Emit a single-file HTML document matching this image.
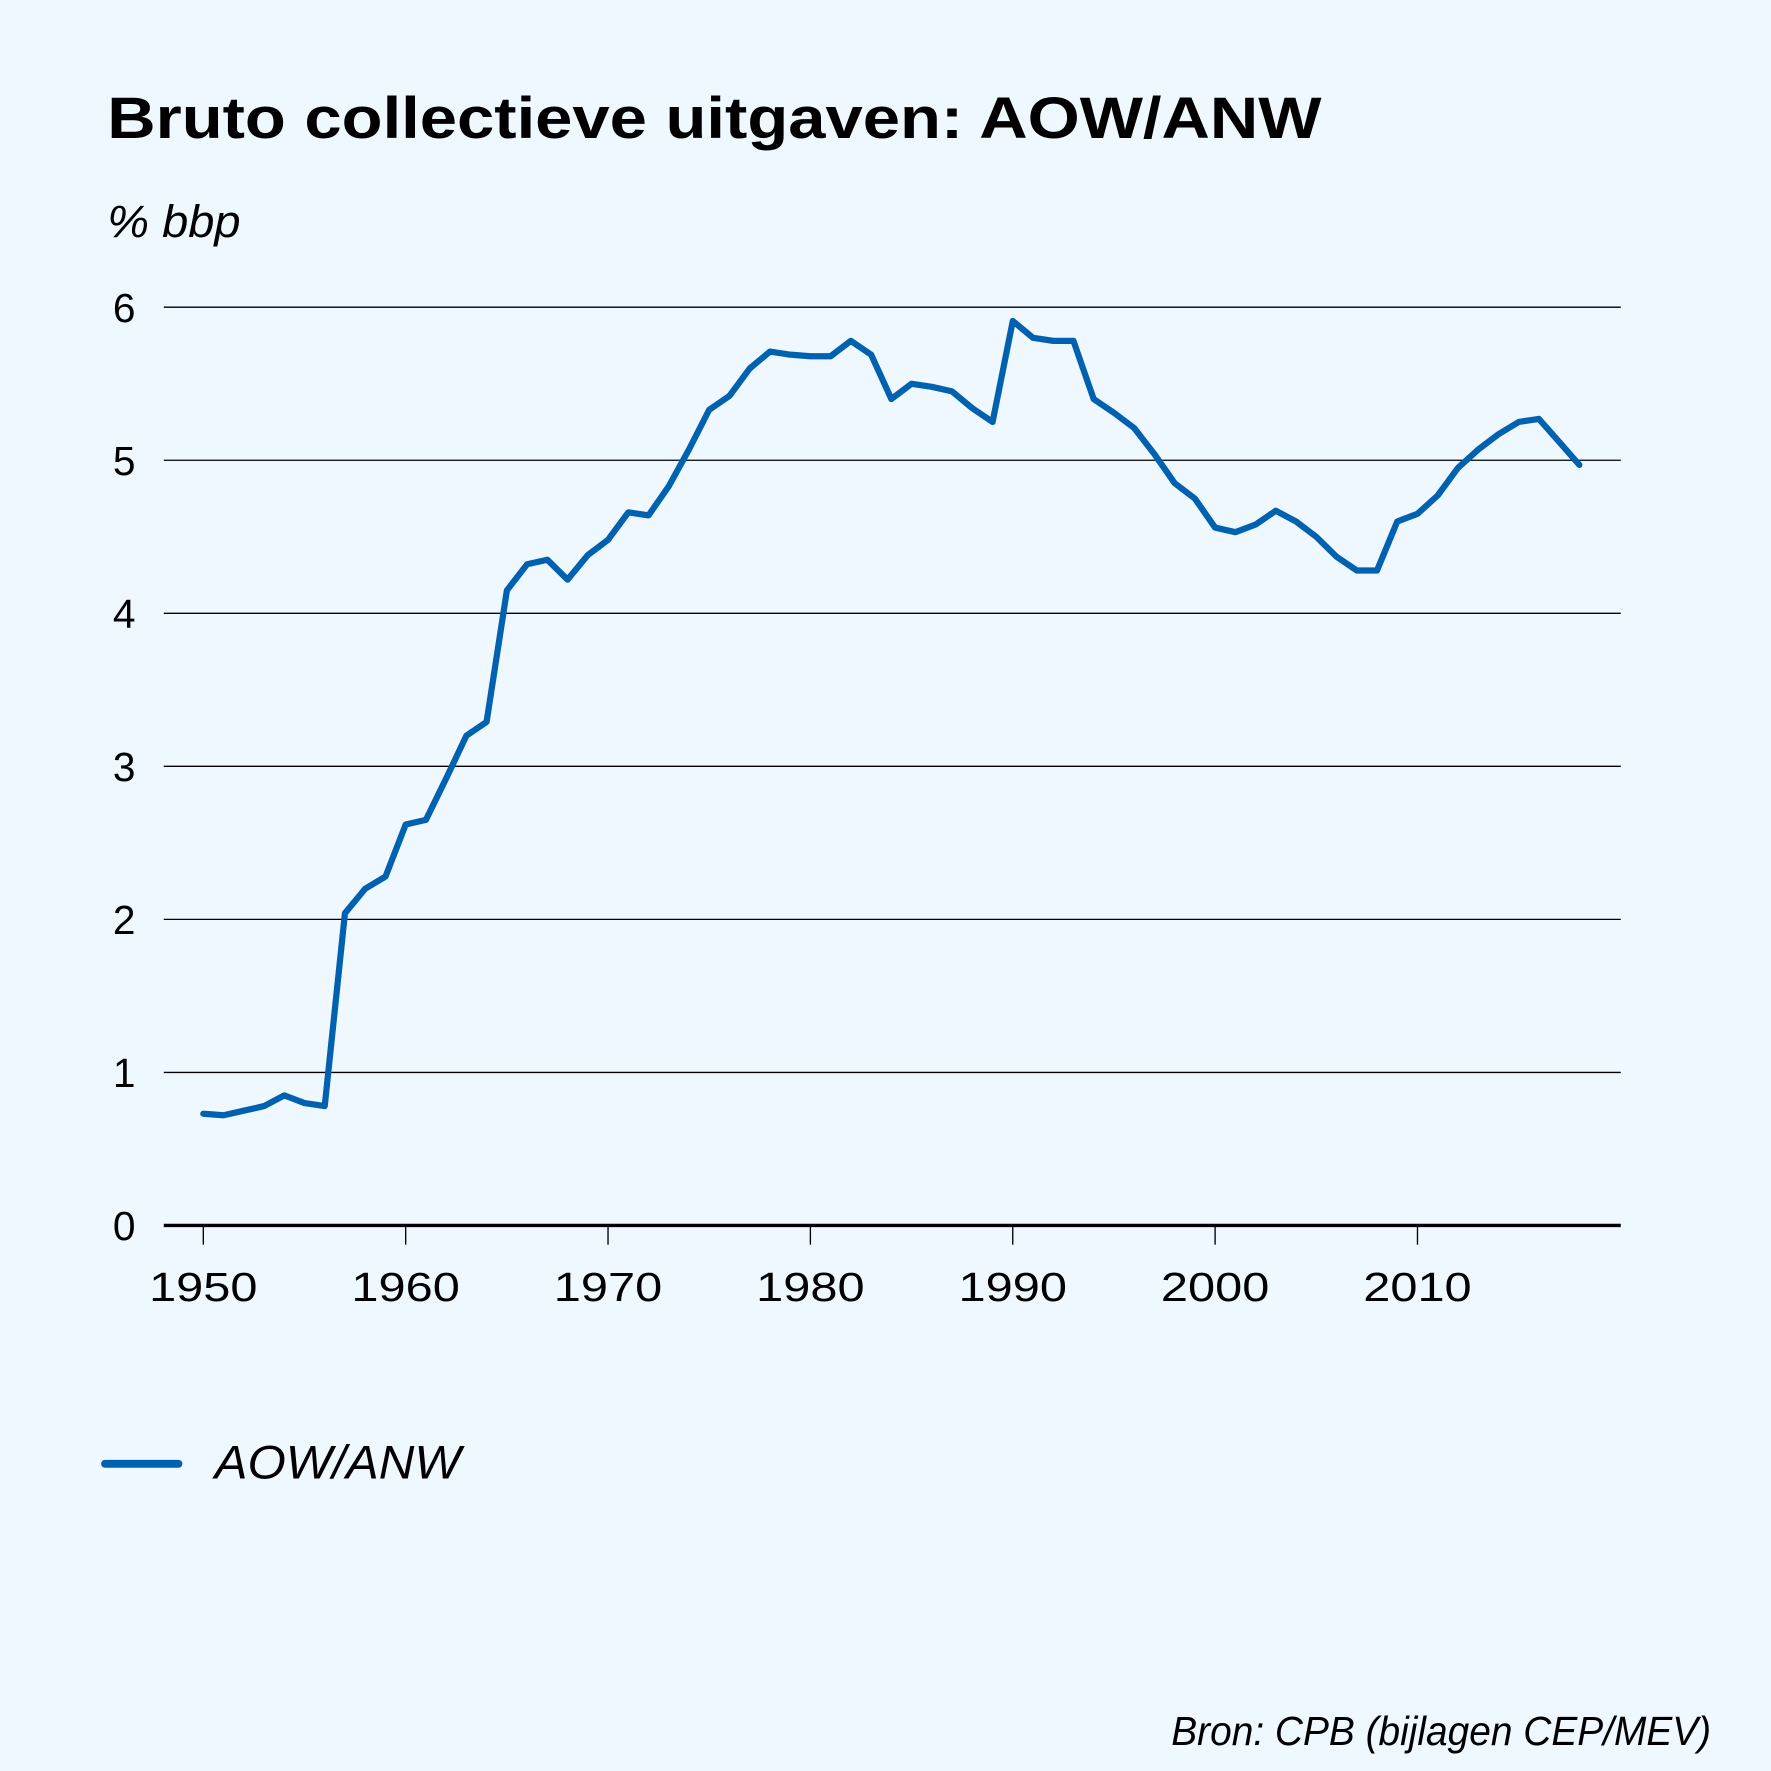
<!DOCTYPE html>
<html><head><meta charset="utf-8"><style>
html,body{margin:0;padding:0;background:#eef8fe;}
svg{display:block;font-family:"Liberation Sans",sans-serif;}
</style></head><body>
<svg id="chart" width="1771" height="1771" viewBox="0 0 1568 1568" xmlns="http://www.w3.org/2000/svg">
<rect width="1568" height="1568" fill="#eef8fe"/>
<text x="95" y="122" font-size="52" font-weight="bold" textLength="1075" lengthAdjust="spacingAndGlyphs" fill="#000">Bruto collectieve uitgaven: AOW/ANW</text>
<text x="95" y="210" font-size="40" font-style="italic" textLength="118" lengthAdjust="spacingAndGlyphs" fill="#000">% bbp</text>
<g id="grid"></g><g id="xaxis"></g><g id="plot"></g>
<line x1="93" y1="1296" x2="158" y2="1296" stroke="#0061b0" stroke-width="7" stroke-linecap="round"/>
<text x="190" y="1309" font-size="42" font-style="italic" textLength="218" lengthAdjust="spacingAndGlyphs" fill="#000">AOW/ANW</text>
<text x="1515" y="1545" font-size="36" font-style="italic" text-anchor="end" textLength="478" lengthAdjust="spacingAndGlyphs" fill="#000">Bron: CPB (bijlagen CEP/MEV)</text>
</svg>
<script>
const years = [];
for (let y = 1950; y <= 2018; y++) years.push(y);
const values = [0.73,0.72,0.75,0.78,0.85,0.80,0.78,2.04,2.20,2.28,2.62,2.65,2.92,3.20,3.29,4.15,4.32,4.35,4.22,4.38,4.48,4.66,4.64,4.83,5.07,5.33,5.42,5.60,5.71,5.69,5.68,5.68,5.78,5.69,5.40,5.50,5.48,5.45,5.34,5.25,5.91,5.80,5.78,5.78,5.40,5.31,5.21,5.04,4.85,4.75,4.56,4.53,4.58,4.67,4.60,4.50,4.37,4.28,4.28,4.60,4.65,4.77,4.95,5.07,5.17,5.25,5.27,5.12,4.97];
const yTicks = [0,1,2,3,4,5,6];
const xTicks = [1950,1960,1970,1980,1990,2000,2010];
const NS = "http://www.w3.org/2000/svg";
const xScale = v => 180 + (v - 1950) * (1255 - 180) / 60;
const yScale = v => 1085 - v * (1085 - 272) / 6;
function mk(tag, attrs, parent) {
  const e = document.createElementNS(NS, tag);
  for (const k in attrs) e.setAttribute(k, attrs[k]);
  parent.appendChild(e);
  return e;
}
const grid = document.getElementById('grid');
yTicks.forEach(t => {
  const l = mk('line', {x1:145, x2:1435, y1:yScale(t), y2:yScale(t), stroke:'#000', 'stroke-width': t === 0 ? 3 : 1.2}, grid);
  
  
  const tx = mk('text', {x:110, y:yScale(t) + 13, 'font-size':36, 'text-anchor':'middle', fill:'#000'}, grid);
  tx.textContent = t;
  
  
});
const xa = document.getElementById('xaxis');
xTicks.forEach(t => {
  const l = mk('line', {x1:xScale(t), x2:xScale(t), y1:1085, y2:1102, stroke:'#000', 'stroke-width':1.2}, xa);
  
  
  const tx = mk('text', {x:xScale(t), y:1152, 'font-size':36, 'text-anchor':'middle', fill:'#000', textLength:96, lengthAdjust:'spacingAndGlyphs'}, xa);
  tx.textContent = t;
  
  
});
const plot = document.getElementById('plot');
const d = years.map((y, i) => (i ? 'L' : 'M') + xScale(y).toFixed(1) + ',' + yScale(values[i]).toFixed(1)).join(' ');
const p = mk('path', {d:d, fill:'none', stroke:'#0061b0', 'stroke-width':5.5, 'stroke-linejoin':'round', 'stroke-linecap':'round'}, plot);


</script>
</body></html>
